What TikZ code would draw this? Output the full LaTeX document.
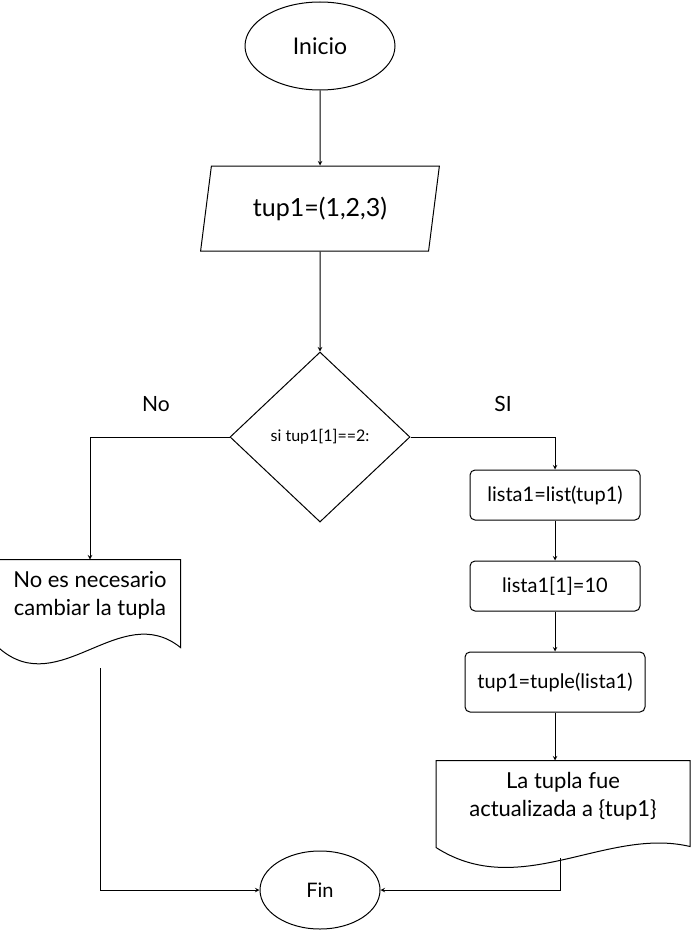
\documentclass[tikz,border=0pt]{standalone}
\usepackage{fontspec}
\setmainfont{Lato}
\usepackage{tikz}
\usetikzlibrary{shapes.geometric, arrows, positioning}
\tikzstyle{startstop} = [ellipse, minimum width=150pt, minimum height=88pt, text centered, draw=black, font=\fontsize{23}{27}\selectfont]
\tikzstyle{io} = [trapezium, trapezium left angle=77, trapezium right angle=103, trapezium stretches=true, minimum width=239pt, minimum height=85pt, text centered, draw=black, font=\fontsize{25}{30}\selectfont]
\tikzstyle{decision} = [diamond, minimum width=180pt, minimum height=170pt, inner sep=0pt, text centered, draw=black, font=\fontsize{16}{19}\selectfont]
\tikzstyle{process} = [rectangle, rounded corners=5pt, minimum width=170pt, minimum height=50pt, text centered, draw=black, font=\fontsize{20}{24}\selectfont]
\tikzstyle{docbox} = [rectangle, minimum height=70pt, align=center, font=\fontsize{22}{28}\selectfont]
\tikzstyle{label} = [font=\fontsize{21}{25}\selectfont]
\tikzstyle{arrow} = [line width=1pt,->,>=stealth]

\begin{document}
\begin{tikzpicture}[x=1pt, y=-1pt, line width=1pt]
            \useasboundingbox (0,0) rectangle (691,931);
            \node (start) [startstop] at (320,46) {Inicio};
            \node (data) [io, below=75pt of start] {tup1=(1,2,3)};
            \node (dec) [decision, below=100pt of data] {si tup1[1]==2:};
            \node (docL) [docbox, minimum width=180pt] at (90,595) {No es necesario\\cambiar la tupla};
            \node (list) [process] at (555,495) {lista1=list(tup1)};
            \node (set) [process, below=40pt of list] {lista1[1]=10};
            \node (back) [process, minimum width=180pt, minimum height=60pt, below=40pt of set] {tup1=tuple(lista1)};
            \node (docR) [docbox, minimum width=253pt, below=48pt of back, xshift=8pt] {La tupla fue\\actualizada a \{tup1\}};
            \node (end) [startstop, minimum width=120pt, minimum height=78pt, font=\fontsize{20}{24}\selectfont] at (320,890) {Fin};

            % document outlines
            \draw (docL.north west) -- (docL.north east) -- ++(0,88)
                .. controls +(-60,-48) and +(60,52) .. ([yshift=-18pt]docL.south west) -- cycle;
            \draw (docR.north west) -- (docR.north east) -- ++(0,86)
                .. controls +(-84,-20) and +(84,54) .. ([yshift=-16pt]docR.south west) -- cycle;
            \coordinate (docLend) at (100,668);
            \coordinate (docRend) at (560,858);

            \draw [arrow] (start) -- (data);
            \draw [arrow] (data) -- (dec);
            \draw [arrow] (dec.west) -| (docL.north) node[pos=0.264, above=22pt, label] {No};
            \draw [arrow] (dec.east) -| (list.north) node[pos=0.32, above=22pt, label] {SI};
            \draw [arrow] (list) -- (set);
            \draw [arrow] (set) -- (back);
            \draw [arrow] (back) -- (back |- docR.north);
            \draw [arrow] (docLend) |- (end.west);
            \draw [arrow] (docRend) |- (end.east);
        \end{tikzpicture}
\end{document}
